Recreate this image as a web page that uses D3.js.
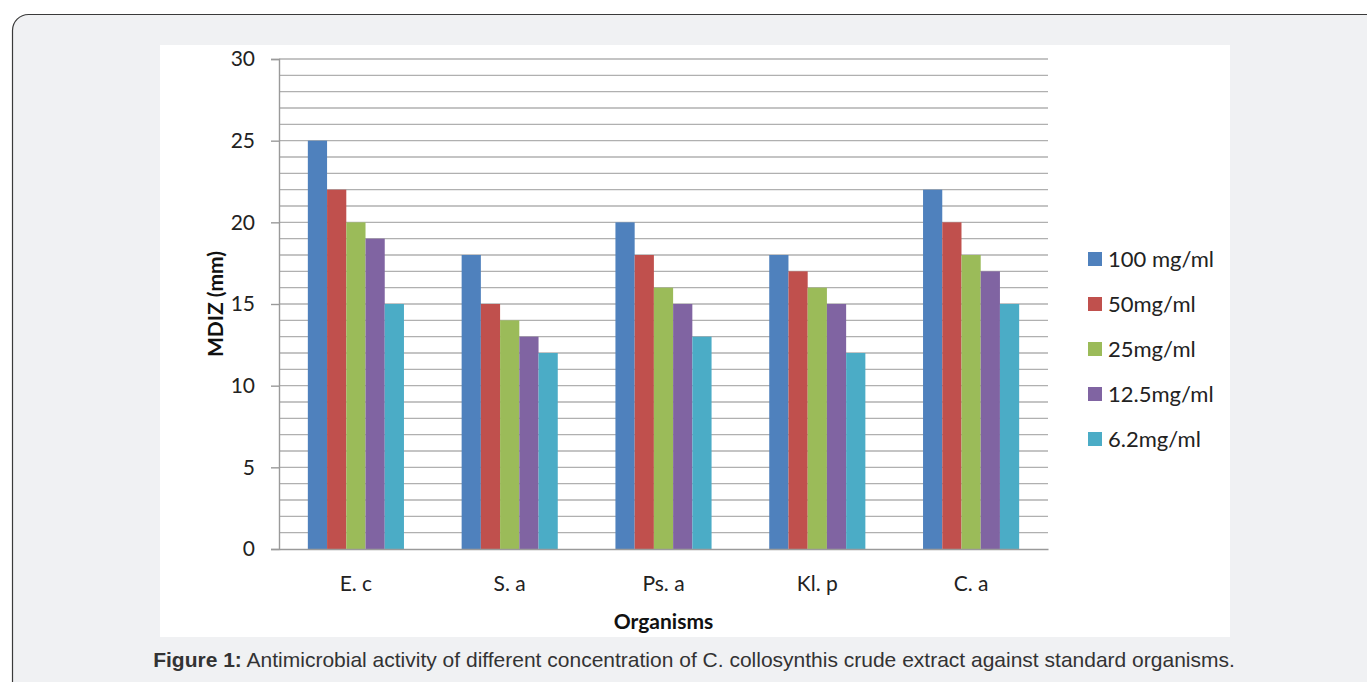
<!DOCTYPE html>
<html>
<head>
<meta charset="utf-8">
<script src="https://cdn.jsdelivr.net/npm/d3@7/dist/d3.min.js"></script>
<style>
  html, body { margin: 0; padding: 0; background: #ffffff; }
  svg { display: block; }
</style>
</head>
<body>
<svg id="chart" width="1367" height="682"></svg>
<script>
// Organisms tested and the extract concentrations
const organisms = ["E. c", "S. a", "Ps. a", "Kl. p", "C. a"];
const concentrations = ["100 mg/ml", "50mg/ml", "25mg/ml", "12.5mg/ml", "6.2mg/ml"];

// Mean diameter of inhibition zone (mm), one array per concentration
const conc100 = [25, 18, 20, 18, 22];
const conc50  = [22, 15, 18, 17, 20];
const conc25  = [20, 14, 16, 16, 18];
const conc12  = [19, 13, 15, 15, 17];
const conc6   = [15, 12, 13, 12, 15];

const yTicks = [0, 5, 10, 15, 20, 25, 30];
const seriesValues = [conc100, conc50, conc25, conc12, conc6];
const colors = ["#4F81BD", "#C0504D", "#9BBB59", "#8064A2", "#4BACC6"];

const svg = d3.select("#chart");
const calibriLike = "Lato, 'Open Sans', sans-serif";

// page background and rounded frame
svg.append("rect").attr("width", 1367).attr("height", 682).attr("fill", "#ffffff");
svg.append("rect")
  .attr("x", 12.5).attr("y", 14.5).attr("width", 1400).attr("height", 720)
  .attr("rx", 16).attr("ry", 16)
  .attr("fill", "#f0f1f3").attr("stroke", "#3a3a3a").attr("stroke-width", 1.2);

// white chart panel
svg.append("rect").attr("x", 160).attr("y", 45).attr("width", 1070).attr("height", 592)
  .attr("fill", "#ffffff");

const plot = { left: 279, right: 1048, top: 59, bottom: 549 };

const x0 = d3.scaleBand().domain(organisms).range([plot.left, plot.right]).paddingInner(0).paddingOuter(0);
const groupInner = 0.625; // share of each band covered by the bar cluster
const y = d3.scaleLinear().domain([0, 30]).range([plot.bottom, plot.top]);

// horizontal gridlines every 1 mm
const g = svg.append("g");
g.selectAll("line.grid").data(d3.range(1, 31)).enter().append("line")
  .attr("class", "grid")
  .attr("x1", plot.left).attr("x2", plot.right)
  .attr("y1", d => y(d)).attr("y2", d => y(d))
  .attr("stroke", "#b0b0b0").attr("stroke-width", 1.4);

// bars
const clusterW = x0.bandwidth() * groupInner;
const barW = clusterW / concentrations.length;
organisms.forEach((org, i) => {
  const start = x0(org) + (x0.bandwidth() - clusterW) / 2;
  seriesValues.forEach((vals, s) => {
    g.append("rect")
      .attr("x", start + s * barW)
      .attr("y", y(vals[i]))
      .attr("width", barW)
      .attr("height", y(0) - y(vals[i]))
      .attr("fill", colors[s]);
  });
});

// y axis
const yAxis = d3.axisLeft(y).tickValues(yTicks).tickSize(8).tickPadding(16);
const ya = svg.append("g").attr("transform", `translate(${plot.left},0)`).call(yAxis);
ya.select(".domain").attr("stroke", "#9a9a9a").attr("stroke-width", 1.4);
ya.selectAll(".tick line").attr("stroke", "#9a9a9a").attr("stroke-width", 1.4);
ya.selectAll(".tick text").attr("font-family", calibriLike).attr("font-size", 21).attr("fill", "#222");

// x axis
const xAxis = d3.axisBottom(x0).tickSize(0).tickPadding(27);
const xa = svg.append("g").attr("transform", `translate(0,${plot.bottom})`).call(xAxis);
xa.select(".domain").attr("stroke", "#9a9a9a").attr("stroke-width", 1.4);
xa.selectAll(".tick text").attr("font-family", calibriLike).attr("font-size", 21).attr("fill", "#222");

// axis titles
svg.append("text").attr("x", (plot.left + plot.right) / 2).attr("y", 629)
  .attr("text-anchor", "middle").attr("font-family", calibriLike).attr("font-weight", "bold")
  .attr("font-size", 21).attr("fill", "#111").text("Organisms");
svg.append("text").attr("transform", "translate(223,304) rotate(-90)")
  .attr("text-anchor", "middle").attr("font-family", calibriLike).attr("font-weight", "bold")
  .attr("font-size", 21).attr("fill", "#111").text("MDIZ (mm)");

// legend
const leg = svg.append("g");
concentrations.forEach((c, i) => {
  const ly = 259 + i * 45;
  leg.append("rect").attr("x", 1088).attr("y", ly - 7).attr("width", 14).attr("height", 14).attr("fill", colors[i]);
  leg.append("text").attr("x", 1108).attr("y", ly + 8)
    .attr("font-family", calibriLike).attr("font-size", 22).attr("fill", "#222").text(c);
});

// figure caption
const cap = svg.append("text").attr("x", 694).attr("y", 667).attr("text-anchor", "middle")
  .attr("font-family", "'Liberation Sans', Arial, sans-serif").attr("font-size", 21).attr("fill", "#333");
cap.append("tspan").attr("font-weight", "bold").text("Figure 1:");
cap.append("tspan").text(" Antimicrobial activity of different concentration of C. collosynthis crude extract against standard organisms.");
</script>
</body>
</html>
